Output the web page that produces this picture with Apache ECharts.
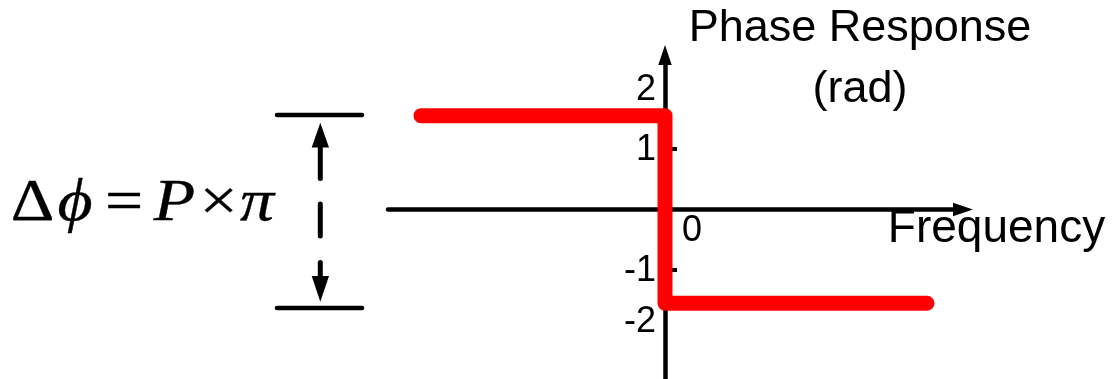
<!DOCTYPE html>
<html>
<head>
<meta charset="utf-8">
<script src="https://cdn.jsdelivr.net/npm/echarts@6/dist/echarts.min.js"></script>
<style>
  html, body { margin: 0; padding: 0; background: #ffffff; }
  #chart { width: 1113px; height: 379px; }
</style>
</head>
<body>
<div id="chart"></div>
<script>
// Ideal phase-step response: +Δφ/2 below zero frequency, −Δφ/2 above it
const frequency = [-2.44, 0, 0, 2.62];
const phase = [1.55, 1.55, -1.55, -1.55];

// Axis labelling
const phaseTickLabels = [-2, -1, 1, 2];
const phaseTickMarks = [-1, 1];
const freqTickLabels = [0];
const phaseAxisName = 'Phase Response\n(rad)';
const freqAxisName = 'Frequency';

// Δφ = P × π, one glyph per entry
const formula = ['\u0394', '\u03D5', '=', 'P', '\u00D7', '\u03C0'];

const SANS = '"Liberation Sans", Arial, Helvetica, sans-serif';
const SERIF = '"Liberation Serif", "Times New Roman", serif';

// Axis extents; the two axes cross at the origin inside the grid
const X_MIN = -2.77, X_MAX = 2.98;
const Y_MIN = -3, Y_MAX = 2.552;
const GRID = { left: 388, right: 150, top: 55, bottom: -12 };
const W = 1113, H = 379;
const gridW = W - GRID.left - GRID.right;
const gridH = H - GRID.top - GRID.bottom;
// shift the axes from the grid edges onto the zero lines
const yAxisShift = -(0 - X_MIN) / (X_MAX - X_MIN) * gridW;
const xAxisShift = -(0 - Y_MIN) / (Y_MAX - Y_MIN) * gridH;

const chart = echarts.init(document.getElementById('chart'), null, { renderer: 'canvas' });

// Horizontal placement and slant of each formula glyph
const glyphLayout = [
  { cx: 32.5, italic: false },
  { cx: 75, italic: true },
  { cx: 124, italic: false },
  { cx: 174.5, italic: true },
  { cx: 218.5, italic: false },
  { cx: 257, italic: true }
];

const formulaText = formula.map((g, i) => ({
  type: 'text',
  x: glyphLayout[i].cx,
  y: 204,
  scaleX: 1.13,
  style: {
    text: g,
    font: (glyphLayout[i].italic ? 'italic ' : '') + '60px ' + SERIF,
    fill: '#000',
    stroke: '#000',
    lineWidth: 0.35,
    align: 'center',
    verticalAlign: 'middle'
  }
}));

// Bracket with dashed double arrow marking the phase jump
const ink = { stroke: '#000', lineCap: 'round' };
const bracket = [
  { type: 'line', shape: { x1: 277, y1: 115, x2: 362, y2: 115 }, style: Object.assign({ lineWidth: 4.5 }, ink) },
  { type: 'line', shape: { x1: 277, y1: 308, x2: 362, y2: 308 }, style: Object.assign({ lineWidth: 4.5 }, ink) },
  { type: 'polygon', shape: { points: [[320.3, 122.7], [311.7, 147.5], [329, 147.5]] }, style: { fill: '#000' } },
  { type: 'line', shape: { x1: 320.3, y1: 146, x2: 320.3, y2: 178.5 }, style: Object.assign({ lineWidth: 5 }, ink) },
  { type: 'line', shape: { x1: 320.3, y1: 204, x2: 320.3, y2: 236 }, style: Object.assign({ lineWidth: 5 }, ink) },
  { type: 'line', shape: { x1: 320.3, y1: 262.5, x2: 320.3, y2: 277 }, style: Object.assign({ lineWidth: 5 }, ink) },
  { type: 'polygon', shape: { points: [[320.3, 301.7], [311.7, 276], [329, 276]] }, style: { fill: '#000' } }
];

const option = {
  animation: false,
  backgroundColor: '#ffffff',
  grid: {
    left: GRID.left,
    right: GRID.right,
    top: GRID.top,
    bottom: GRID.bottom,
    containLabel: false,
    outerBoundsMode: 'none'
  },
  xAxis: {
    type: 'value',
    position: 'bottom',
    offset: xAxisShift,
    min: X_MIN,
    max: X_MAX,
    name: freqAxisName,
    nameLocation: 'end',
    nameGap: 33.5,
    nameMoveOverlap: false,
    nameTextStyle: {
      fontFamily: SANS,
      fontSize: 46,
      lineHeight: 40,
      color: '#000',
      align: 'center',
      verticalAlign: 'top'
    },
    axisLine: {
      onZero: false,
      symbol: ['none', 'triangle'],
      symbolSize: [13.5, 20],
      lineStyle: { color: '#000', width: 4.5, cap: 'round' }
    },
    axisTick: { show: false },
    splitLine: { show: false },
    axisLabel: {
      customValues: freqTickLabels,
      formatter: v => (freqTickLabels.indexOf(v) >= 0 ? String(v) : ''),
      margin: 4,
      align: 'left',
      padding: [0, 0, 0, 17],
      fontFamily: SANS,
      fontSize: 36,
      color: '#000',
      hideOverlap: false
    }
  },
  yAxis: {
    type: 'value',
    position: 'left',
    offset: yAxisShift,
    min: Y_MIN,
    max: Y_MAX,
    interval: 1,
    name: phaseAxisName,
    nameLocation: 'end',
    nameGap: 57,
    nameMoveOverlap: false,
    nameTextStyle: {
      fontFamily: SANS,
      fontSize: 45,
      lineHeight: 61,
      color: '#000',
      align: 'center',
      verticalAlign: 'top',
      padding: [0, 0, 0, 390]
    },
    axisLine: {
      onZero: false,
      symbol: ['none', 'triangle'],
      symbolSize: [13.5, 20],
      lineStyle: { color: '#000', width: 4.5 }
    },
    axisTick: {
      show: true,
      inside: true,
      length: 12,
      customValues: phaseTickMarks,
      lineStyle: { color: '#000', width: 4 }
    },
    splitLine: { show: false },
    axisLabel: {
      customValues: phaseTickLabels,
      formatter: v => {
        if (phaseTickLabels.indexOf(v) < 0) return '';
        return v === -2 ? '{lo|' + v + '}' : '{n|' + v + '}';
      },
      margin: 9,
      fontFamily: SANS,
      fontSize: 36,
      color: '#000',
      hideOverlap: false,
      rich: {
        n: { fontFamily: SANS, fontSize: 36, color: '#000', padding: [3, 0, 0, 0] },
        lo: { fontFamily: SANS, fontSize: 36, color: '#000', padding: [0, 0, 16, 0] }
      }
    }
  },
  series: [{
    type: 'line',
    data: frequency.map((f, i) => [f, phase[i]]),
    showSymbol: false,
    symbol: 'none',
    lineStyle: { color: '#ff0000', width: 15, cap: 'round', join: 'round' },
    z: 5
  }],
  graphic: formulaText.concat(bracket)
};

chart.setOption(option);
</script>
</body>
</html>
